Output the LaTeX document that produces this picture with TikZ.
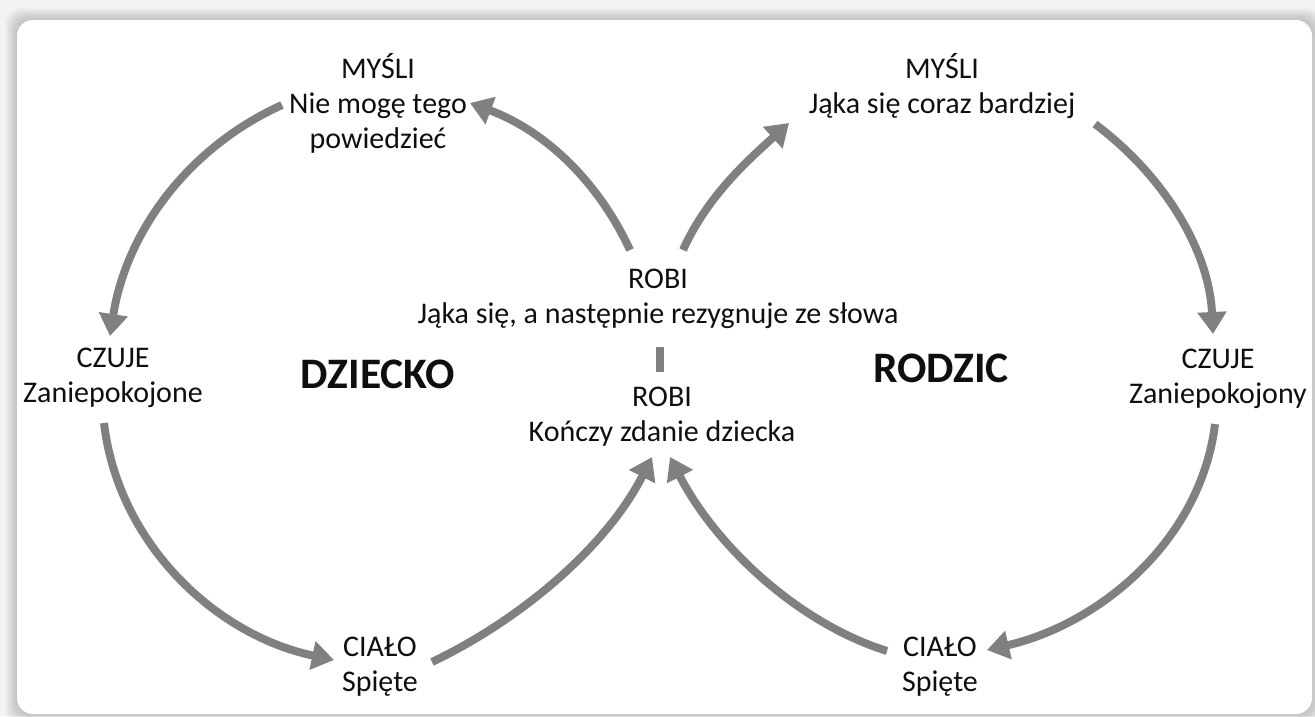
\documentclass[tikz,border=0pt]{standalone}
\usepackage{fontspec}
\setmainfont{Carlito}
\usetikzlibrary{arrows.meta}
\definecolor{arrowgray}{RGB}{128,128,128}
\definecolor{bggray}{RGB}{243,243,243}
\definecolor{txt}{RGB}{15,15,15}
\begin{document}
\begin{tikzpicture}[x=1pt,y=-1pt,
  lbl/.style={font=\fontsize{30pt}{35pt}\selectfont, text=txt, align=center, inner sep=0pt},
  big/.style={font=\fontsize{43.5pt}{48pt}\selectfont\bfseries, text=txt, inner sep=0pt},
  cyc/.style={draw=arrowgray, line width=8pt, -{Triangle[length=22pt,width=28pt]}},
  bar/.style={draw=arrowgray, line width=8pt}]
\useasboundingbox (0,0) rectangle (1315,716);
\fill[bggray] (0,0) rectangle (1315,716);
\foreach \i in {1,...,8}
  \fill[black, opacity=0.025, rounded corners=16pt] (17-\i*1.5,20-\i*1.5) rectangle (1312+\i*1.5,714+\i*1.5);
\fill[white, rounded corners=16pt] (17,20) rectangle (1312,714);

% labels
\node[lbl] (mysliL) at (378,103) {MYŚLI\\Nie mogę tego\\powiedzieć};
\node[lbl] (mysliR) at (942,86) {MYŚLI\\Jąka się coraz bardziej};
\node[lbl] (robiT) at (658,299) {ROBI\\Jąka się, a następnie rezygnuje ze słowa};
\node[lbl] (robiB) at (662,417) {ROBI\\Kończy zdanie dziecka};
\node[lbl] (czujeL) at (113,378) {CZUJE\\Zaniepokojone};
\node[lbl] (czujeR) at (1218,379) {CZUJE\\Zaniepokojony};
\node[lbl] (cialoL) at (380,667) {CIAŁO\\Spięte};
\node[lbl] (cialoR) at (940,667) {CIAŁO\\Spięte};
\node[big] (dziecko) at (378,374) {DZIECKO};
\node[big] (rodzic) at (941,368) {RODZIC};

% connector end points
\coordinate (a4s) at (630,250); \coordinate (a4e) at (470,103);
\coordinate (a1s) at (282,105); \coordinate (a1e) at (110,336);
\coordinate (a2s) at (104,423); \coordinate (a2e) at (334,660);
\coordinate (a3s) at (432,662); \coordinate (a3e) at (652,457);
\coordinate (a5s) at (683,250); \coordinate (a5e) at (789,123);
\coordinate (a6s) at (1095,124); \coordinate (a6e) at (1213,334);
\coordinate (a7s) at (1215,424); \coordinate (a7e) at (987,650);
\coordinate (a8s) at (887,651); \coordinate (a8e) at (670,457);
\coordinate (bs) at (660,347); \coordinate (be) at (660,372);

% left loop
\draw[cyc] (a4s) .. controls (597,179) and (543,130) .. (a4e);
\draw[cyc] (a1s) .. controls (187,148) and (126,233) .. (a1e);
\draw[cyc] (a2s) .. controls (118,543) and (215,635) .. (a2e);
\draw[cyc] (a3s) .. controls (522,619) and (607,546) .. (a3e);
% right loop
\draw[cyc] (a5s) .. controls (707,197) and (746,162) .. (a5e);
\draw[cyc] (a6s) .. controls (1163,175) and (1209,249) .. (a6e);
\draw[cyc] (a7s) .. controls (1201,540) and (1100,624) .. (a7e);
\draw[cyc] (a8s) .. controls (795,622) and (714,543) .. (a8e);
% middle bar
\draw[bar] (bs) -- (be);
\end{tikzpicture}
\end{document}
